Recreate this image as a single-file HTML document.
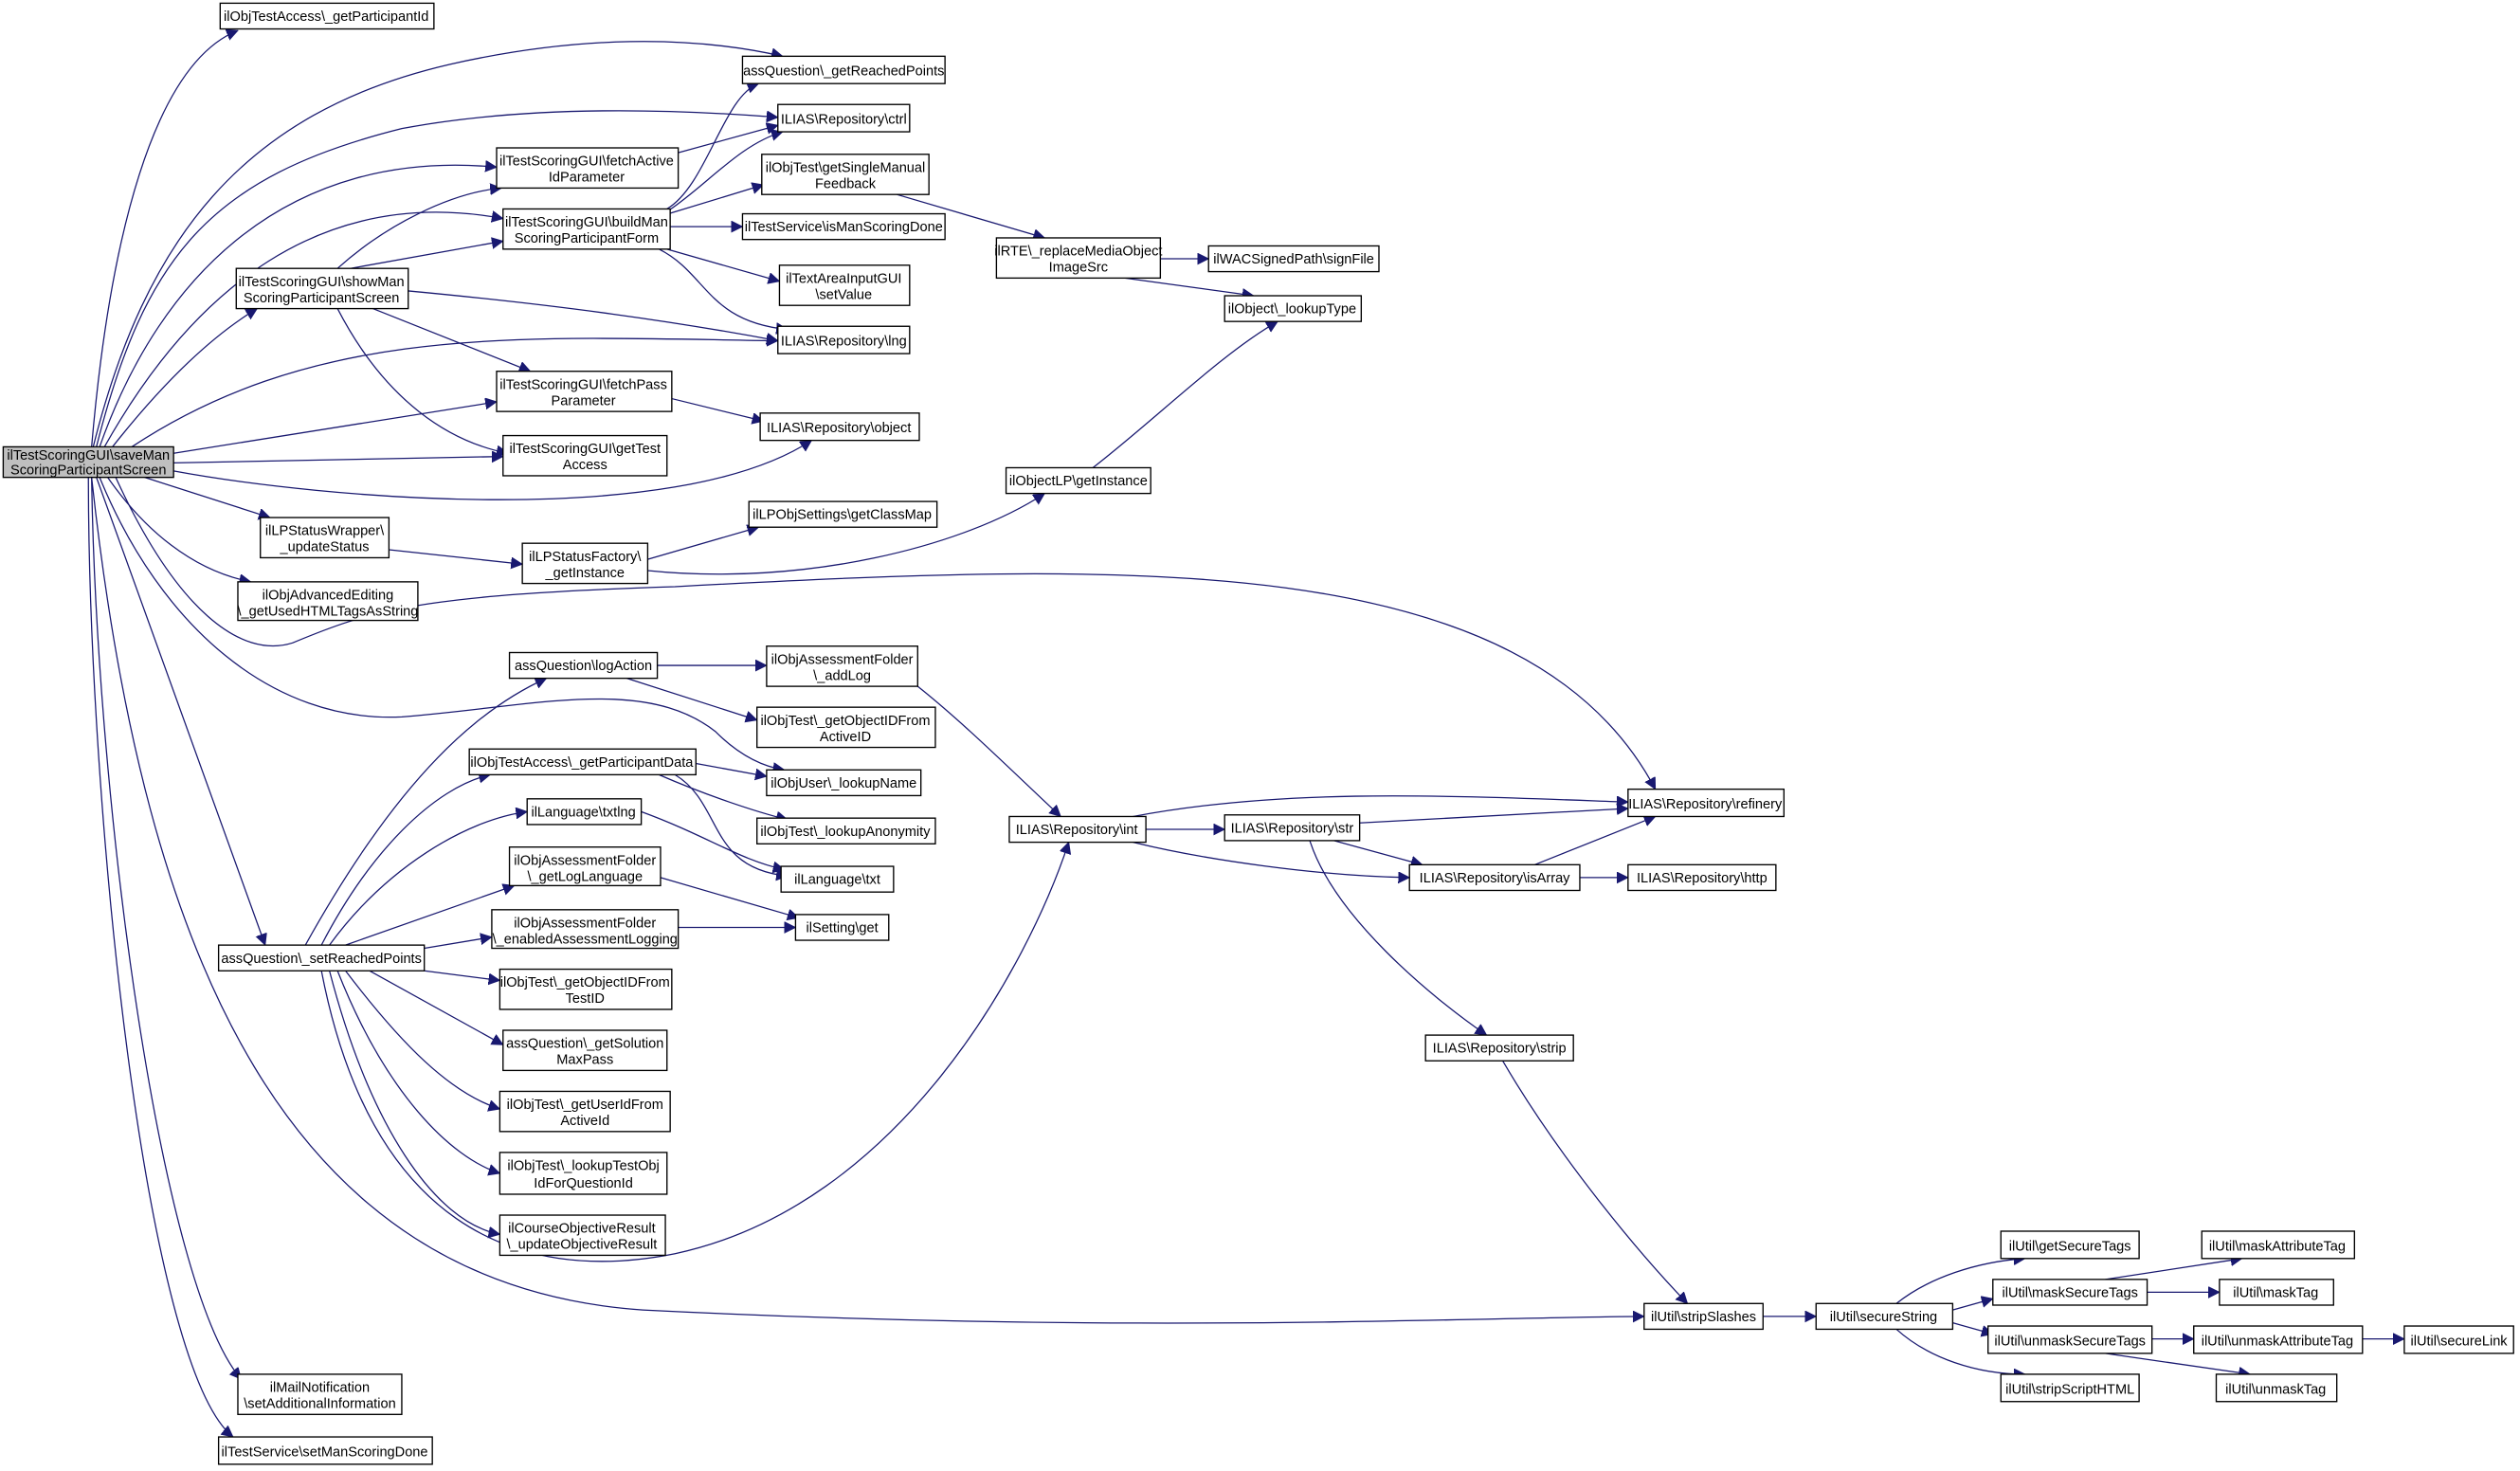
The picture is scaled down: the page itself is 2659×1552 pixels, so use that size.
<!DOCTYPE html>
<html><head><meta charset="utf-8"><style>
html,body{margin:0;padding:0;background:#fff;}
svg{display:block;}
text{font-family:"Liberation Sans",sans-serif;font-size:8.6px;fill:#000;text-anchor:middle;}
.b rect{fill:#fff;stroke:#000;stroke-width:0.8;}
path{fill:none;stroke:#191970;stroke-width:0.75;}
</style></head><body>
<svg width="2659" height="1552" viewBox="0 0 1568 915.2" preserveAspectRatio="none" xmlns="http://www.w3.org/2000/svg">
<defs><marker id="a" markerUnits="userSpaceOnUse" markerWidth="8" markerHeight="8" refX="7" refY="3.5" orient="auto"><path d="M0,0 L7,3.5 L0,7 Z" style="fill:#191970;stroke:#191970;stroke-width:0.5"/></marker></defs>
<g marker-end="url(#a)">
<path d="M57,278 C68,150 95,40 148,19"/>
<path d="M58,278 C90,150 150,70 280,40 C360,22 430,22 487,35"/>
<path d="M60,278 C90,160 130,110 250,80 C330,65 420,68 484,73"/>
<path d="M62,278 C100,170 180,92 309,104"/>
<path d="M65,278 C120,180 200,115 313,136"/>
<path d="M70,278 C100,240 130,210 160,192"/>
<path d="M82,278 C200,200 330,210 484,212"/>
<path d="M108,282 L309,250"/>
<path d="M108,288 L313,284"/>
<path d="M108,293 C200,310 420,330 505,274"/>
<path d="M90,297 L168,322"/>
<path d="M67,297 C90,330 120,355 156,362"/>
<path d="M72,297 C110,380 150,410 182,400 C230,380 260,370 420,365 C700,350 950,340 1030,491"/>
<path d="M62,297 C100,390 170,450 250,446 C330,440 400,420 445,455 C460,470 475,477 488,479"/>
<path d="M60,297 L165,588"/>
<path d="M57,297 C90,600 180,800 400,815 C700,830 900,820 1023,819"/>
<path d="M57,297 C60,500 100,800 150,858"/>
<path d="M55,297 C55,500 90,850 145,894"/>
<path d="M210,167 C240,140 280,120 312,117"/>
<path d="M218,167 L313,150"/>
<path d="M254,181 C350,190 420,200 484,212"/>
<path d="M232,192 L330,231"/>
<path d="M210,192 C240,250 280,275 316,282"/>
<path d="M422,95 L484,78"/>
<path d="M415,130 C440,115 450,60 472,52"/>
<path d="M416,131 C440,115 460,90 487,82"/>
<path d="M416,133 L475,115"/>
<path d="M417,141 L462,141"/>
<path d="M415,155 L485,175"/>
<path d="M410,155 C440,170 440,200 490,205"/>
<path d="M558,121 L650,148"/>
<path d="M722,161 L752,161"/>
<path d="M700,173 L780,184"/>
<path d="M680,291 C720,260 760,220 795,200"/>
<path d="M418,248 L475,262"/>
<path d="M242,342 L325,351"/>
<path d="M403,348 L472,328"/>
<path d="M403,355 C500,365 600,340 650,307"/>
<path d="M409,414 L477,414"/>
<path d="M390,422 L471,448"/>
<path d="M571,427 C600,450 630,480 660,508"/>
<path d="M433,475 L477,483"/>
<path d="M410,482 C440,495 470,505 490,510"/>
<path d="M420,482 C450,500 440,540 490,545"/>
<path d="M399,505 C440,520 460,535 488,541"/>
<path d="M411,546 L497,571"/>
<path d="M422,577 L495,577"/>
<path d="M190,588 C250,480 300,440 340,422"/>
<path d="M200,588 C230,530 270,490 305,482"/>
<path d="M205,588 C240,540 290,510 328,505"/>
<path d="M215,588 L320,551"/>
<path d="M264,590 L306,583"/>
<path d="M264,604 L311,610"/>
<path d="M230,604 L313,650"/>
<path d="M215,604 C250,650 280,680 311,690"/>
<path d="M210,604 C240,680 280,720 311,730"/>
<path d="M205,604 C230,700 270,760 311,768"/>
<path d="M200,604 C230,760 320,800 420,780 C560,750 640,600 665,524"/>
<path d="M705,508 C800,490 900,495 1013,499"/>
<path d="M713,516 L762,516"/>
<path d="M705,524 C750,535 820,545 877,546"/>
<path d="M846,512 L1013,503"/>
<path d="M830,523 L885,538"/>
<path d="M815,523 C830,570 890,620 925,644"/>
<path d="M955,538 L1030,508"/>
<path d="M983,546 L1013,546"/>
<path d="M935,660 C970,720 1020,780 1050,811"/>
<path d="M1097,819 L1130,819"/>
<path d="M1180,811 C1200,795 1230,785 1260,783"/>
<path d="M1215,815 L1240,808"/>
<path d="M1215,823 L1240,830"/>
<path d="M1180,827 C1200,845 1230,855 1260,855"/>
<path d="M1310,796 L1395,783"/>
<path d="M1336,804 L1381,804"/>
<path d="M1339,833 L1365,833"/>
<path d="M1310,842 L1400,855"/>
<path d="M1470,833 L1496,833"/>
</g>
<g class="b">
<rect x="2" y="278" width="106" height="19" style="fill:#bfbfbf"/><text x="55" y="286">ilTestScoringGUI\saveMan</text><text x="55" y="295">ScoringParticipantScreen</text>
<rect x="137" y="2" width="133" height="16"/><text x="203" y="13">ilObjTestAccess\_getParticipantId</text>
<rect x="462" y="35" width="126" height="17"/><text x="525" y="47">assQuestion\_getReachedPoints</text>
<rect x="484" y="65" width="82" height="17"/><text x="525" y="77">ILIAS\Repository\ctrl</text>
<rect x="309" y="92" width="113" height="25"/><text x="365" y="103">ilTestScoringGUI\fetchActive</text><text x="365" y="113">IdParameter</text>
<rect x="474" y="96" width="104" height="25"/><text x="526" y="107">ilObjTest\getSingleManual</text><text x="526" y="117">Feedback</text>
<rect x="313" y="130" width="104" height="25"/><text x="365" y="141">ilTestScoringGUI\buildMan</text><text x="365" y="151">ScoringParticipantForm</text>
<rect x="462" y="133" width="126" height="16"/><text x="525" y="144">ilTestService\isManScoringDone</text>
<rect x="620" y="148" width="102" height="25"/><text x="671" y="159">ilRTE\_replaceMediaObject</text><text x="671" y="169">ImageSrc</text>
<rect x="752" y="153" width="106" height="16"/><text x="805" y="164">ilWACSignedPath\signFile</text>
<rect x="485" y="165" width="81" height="25"/><text x="525" y="176">ilTextAreaInputGUI</text><text x="525" y="186">\setValue</text>
<rect x="762" y="184" width="85" height="16"/><text x="804" y="195">ilObject\_lookupType</text>
<rect x="147" y="167" width="107" height="25"/><text x="200" y="178">ilTestScoringGUI\showMan</text><text x="200" y="188">ScoringParticipantScreen</text>
<rect x="484" y="203" width="82" height="17"/><text x="525" y="215">ILIAS\Repository\lng</text>
<rect x="309" y="231" width="109" height="25"/><text x="363" y="242">ilTestScoringGUI\fetchPass</text><text x="363" y="252">Parameter</text>
<rect x="473" y="257" width="99" height="17"/><text x="522" y="269">ILIAS\Repository\object</text>
<rect x="313" y="271" width="102" height="25"/><text x="364" y="282">ilTestScoringGUI\getTest</text><text x="364" y="292">Access</text>
<rect x="626" y="291" width="90" height="16"/><text x="671" y="302">ilObjectLP\getInstance</text>
<rect x="466" y="312" width="117" height="16"/><text x="524" y="323">ilLPObjSettings\getClassMap</text>
<rect x="162" y="322" width="80" height="25"/><text x="202" y="333">ilLPStatusWrapper\</text><text x="202" y="343">_updateStatus</text>
<rect x="325" y="338" width="78" height="25"/><text x="364" y="349">ilLPStatusFactory\</text><text x="364" y="359">_getInstance</text>
<rect x="148" y="362" width="112" height="24"/><text x="204" y="373">ilObjAdvancedEditing</text><text x="204" y="383">\_getUsedHTMLTagsAsString</text>
<rect x="317" y="406" width="92" height="16"/><text x="363" y="417">assQuestion\logAction</text>
<rect x="477" y="402" width="94" height="25"/><text x="524" y="413">ilObjAssessmentFolder</text><text x="524" y="423">\_addLog</text>
<rect x="471" y="440" width="111" height="25"/><text x="526" y="451">ilObjTest\_getObjectIDFrom</text><text x="526" y="461">ActiveID</text>
<rect x="292" y="466" width="141" height="16"/><text x="362" y="477">ilObjTestAccess\_getParticipantData</text>
<rect x="477" y="479" width="96" height="16"/><text x="525" y="490">ilObjUser\_lookupName</text>
<rect x="628" y="508" width="85" height="16"/><text x="670" y="519">ILIAS\Repository\int</text>
<rect x="762" y="507" width="84" height="16"/><text x="804" y="518">ILIAS\Repository\str</text>
<rect x="1013" y="491" width="97" height="17"/><text x="1061" y="503">ILIAS\Repository\refinery</text>
<rect x="328" y="497" width="71" height="16"/><text x="363" y="508">ilLanguage\txtlng</text>
<rect x="471" y="509" width="111" height="16"/><text x="526" y="520">ilObjTest\_lookupAnonymity</text>
<rect x="317" y="527" width="94" height="24"/><text x="364" y="538">ilObjAssessmentFolder</text><text x="364" y="548">\_getLogLanguage</text>
<rect x="486" y="539" width="70" height="16"/><text x="521" y="550">ilLanguage\txt</text>
<rect x="877" y="538" width="106" height="16"/><text x="930" y="549">ILIAS\Repository\isArray</text>
<rect x="1013" y="538" width="92" height="16"/><text x="1059" y="549">ILIAS\Repository\http</text>
<rect x="306" y="566" width="116" height="24"/><text x="364" y="577">ilObjAssessmentFolder</text><text x="364" y="587">\_enabledAssessmentLogging</text>
<rect x="495" y="569" width="58" height="16"/><text x="524" y="580">ilSetting\get</text>
<rect x="136" y="588" width="128" height="16"/><text x="200" y="599">assQuestion\_setReachedPoints</text>
<rect x="311" y="603" width="107" height="25"/><text x="364" y="614">ilObjTest\_getObjectIDFrom</text><text x="364" y="624">TestID</text>
<rect x="313" y="641" width="102" height="25"/><text x="364" y="652">assQuestion\_getSolution</text><text x="364" y="662">MaxPass</text>
<rect x="311" y="679" width="106" height="25"/><text x="364" y="690">ilObjTest\_getUserIdFrom</text><text x="364" y="700">ActiveId</text>
<rect x="311" y="717" width="104" height="26"/><text x="363" y="728">ilObjTest\_lookupTestObj</text><text x="363" y="739">IdForQuestionId</text>
<rect x="311" y="756" width="103" height="25"/><text x="362" y="767">ilCourseObjectiveResult</text><text x="362" y="777">\_updateObjectiveResult</text>
<rect x="887" y="644" width="92" height="16"/><text x="933" y="655">ILIAS\Repository\strip</text>
<rect x="1023" y="811" width="74" height="16"/><text x="1060" y="822">ilUtil\stripSlashes</text>
<rect x="1130" y="811" width="85" height="16"/><text x="1172" y="822">ilUtil\secureString</text>
<rect x="1245" y="766" width="86" height="17"/><text x="1288" y="778">ilUtil\getSecureTags</text>
<rect x="1240" y="796" width="96" height="16"/><text x="1288" y="807">ilUtil\maskSecureTags</text>
<rect x="1370" y="766" width="95" height="17"/><text x="1417" y="778">ilUtil\maskAttributeTag</text>
<rect x="1381" y="796" width="71" height="16"/><text x="1416" y="807">ilUtil\maskTag</text>
<rect x="1237" y="825" width="102" height="17"/><text x="1288" y="837">ilUtil\unmaskSecureTags</text>
<rect x="1365" y="825" width="105" height="17"/><text x="1417" y="837">ilUtil\unmaskAttributeTag</text>
<rect x="1496" y="825" width="68" height="17"/><text x="1530" y="837">ilUtil\secureLink</text>
<rect x="1245" y="855" width="86" height="17"/><text x="1288" y="867">ilUtil\stripScriptHTML</text>
<rect x="1379" y="855" width="75" height="17"/><text x="1416" y="867">ilUtil\unmaskTag</text>
<rect x="148" y="855" width="102" height="25"/><text x="199" y="866">ilMailNotification</text><text x="199" y="876">\setAdditionalInformation</text>
<rect x="136" y="894" width="133" height="17"/><text x="202" y="906">ilTestService\setManScoringDone</text>
</g>
</svg>
</body></html>
